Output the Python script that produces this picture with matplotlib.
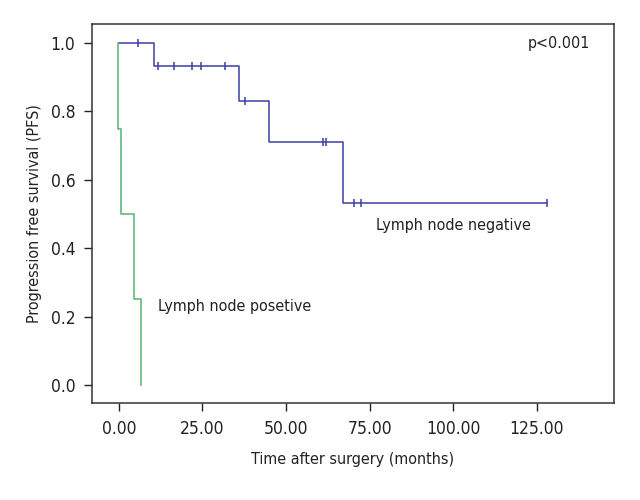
import matplotlib.pyplot as plt

# Kaplan-Meier curves
neg_event_times = [0, 10.5, 35.8, 44.8, 66.9, 128]
neg_surv = [1.0, 0.933, 0.830, 0.711, 0.533, 0.533]
neg_censor_t = [5.7, 11.7, 16.4, 21.8, 24.5, 31.6, 37.6, 61.0, 62.0, 70.2, 72.5, 128]
neg_censor_s = [1.0, 0.933, 0.933, 0.933, 0.933, 0.933, 0.830, 0.711, 0.711, 0.533, 0.533, 0.533]

pos_event_times = [-0.3, -0.3, 0.6, 4.5, 6.6]
pos_surv = [1.0, 0.75, 0.50, 0.25, 0.0]

xticks = [0, 25, 50, 75, 100, 125]
yticks = [0.0, 0.2, 0.4, 0.6, 0.8, 1.0]

plt.rcParams['font.family'] = ['DejaVu Sans']
plt.rcParams['font.stretch'] = 'condensed'

fig = plt.figure(figsize=(6.4, 5), dpi=100)
ax = fig.add_axes([0.144, 0.194, 0.815, 0.758])

blue = '#3c3fa6'
green = '#52b56c'

# negative curve
ax.step(neg_event_times, neg_surv, where='post', color=blue, lw=1.1)
ax.plot(neg_censor_t, neg_censor_s, ls='none', marker='|', ms=6, mew=1.1, color=blue)

# positive curve
ax.step(pos_event_times, pos_surv, where='post', color=green, lw=1.1)

ax.set_xlim(-8, 148)
ax.set_ylim(-0.053, 1.056)
ax.set_xticks(xticks)
ax.set_xticklabels([f'{t:.2f}' for t in xticks])
ax.set_yticks(yticks)
ax.set_yticklabels([f'{t:.1f}' for t in yticks])
ax.tick_params(direction='out', length=6, width=1, colors='#222222', labelsize=12.5, pad=6)
for s in ax.spines.values():
    s.set_color('#333333')
    s.set_linewidth(1.1)

ax.set_xlabel('Time after surgery (months)', fontsize=11.5, labelpad=10, color='#222222')
ax.set_ylabel('Progression free survival (PFS)', fontsize=11.5, labelpad=6, color='#222222')

ax.text(141, 1.0, 'p<0.001', ha='right', va='center', fontsize=11.5, color='#222222')
ax.text(77, 0.465, 'Lymph node negative', ha='left', va='center', fontsize=11.5, color='#222222')
ax.text(11.7, 0.23, 'Lymph node posetive', ha='left', va='center', fontsize=11.5, color='#222222')

fig.savefig('out.png', dpi=100)
